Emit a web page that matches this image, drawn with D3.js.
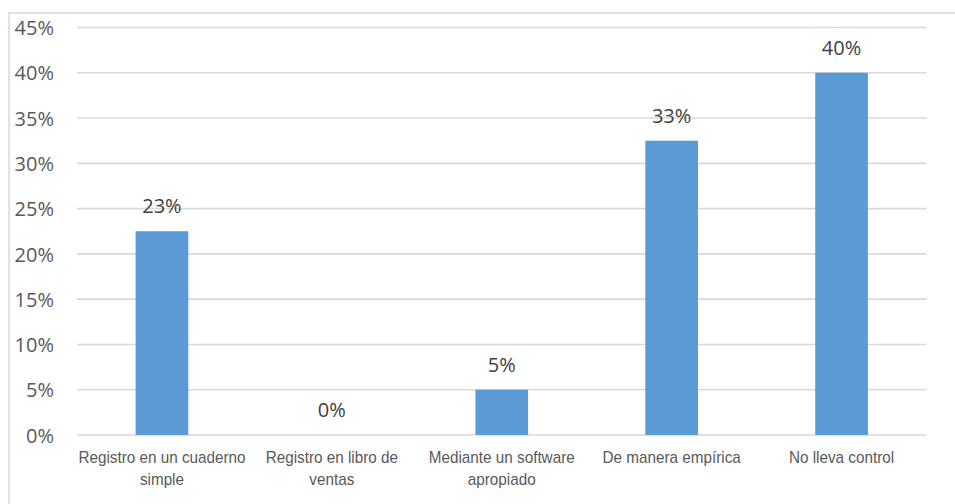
<!DOCTYPE html>
<html>
<head>
<meta charset="utf-8">
<script src="https://cdn.jsdelivr.net/npm/d3@7"></script>
<style>
  body { margin: 0; background: #fff; }
  svg { display: block; }
</style>
</head>
<body>
<div id="chart"></div>
<script>
// data
var categories = ["Registro en un cuaderno simple", "Registro en libro de ventas", "Mediante un software apropiado", "De manera empírica", "No lleva control"];
var values = [0.225, 0, 0.05, 0.325, 0.40];
var yTicks = [0, 0.05, 0.10, 0.15, 0.20, 0.25, 0.30, 0.35, 0.40, 0.45];

var W = 955, H = 504;
var plotLeft = 77, plotRight = 926.5, plotTop = 27.5, plotBottom = 435;
var squeeze = 0.955; // category labels are slightly condensed

var svg = d3.select("#chart").append("svg")
    .attr("width", W)
    .attr("height", H);

// chart border
svg.append("rect")
    .attr("x", 9).attr("y", 13)
    .attr("width", W).attr("height", H)
    .attr("fill", "none")
    .attr("stroke", "#d9d9d9")
    .attr("stroke-width", 1.5);

var x = d3.scaleBand()
    .domain(categories)
    .range([plotLeft, plotRight])
    .paddingInner(0.69)
    .paddingOuter(0.345);

var y = d3.scaleLinear()
    .domain([0, 0.45])
    .range([plotBottom, plotTop]);

// gridlines
svg.append("g").selectAll("line")
    .data(yTicks)
    .enter().append("line")
    .attr("x1", plotLeft).attr("x2", plotRight)
    .attr("y1", function(d) { return y(d); })
    .attr("y2", function(d) { return y(d); })
    .attr("stroke", "#d9d9d9")
    .attr("stroke-width", 1.6);

// y axis labels
var yAxis = svg.append("g")
    .attr("transform", "translate(54,0)")
    .call(d3.axisLeft(y).tickValues(yTicks).tickFormat(d3.format(".0%")).tickSize(0).tickPadding(0));
yAxis.select(".domain").remove();
yAxis.selectAll("text")
    .attr("font-family", "'Open Sans', sans-serif")
    .attr("font-size", "20px")
    .attr("fill", "#595959")
    .attr("dy", "0.36em");

// bars
svg.selectAll(".bar")
    .data(values)
    .enter().append("rect")
    .attr("class", "bar")
    .attr("x", function(d, i) { return x(categories[i]); })
    .attr("y", function(d) { return y(d); })
    .attr("width", x.bandwidth())
    .attr("height", function(d) { return plotBottom - y(d); })
    .attr("fill", "#5b9bd5");

// value labels
svg.selectAll(".val")
    .data(values)
    .enter().append("text")
    .attr("class", "val")
    .attr("x", function(d, i) { return x(categories[i]) + x.bandwidth() / 2; })
    .attr("y", function(d) { return y(d) - 18; })
    .attr("text-anchor", "middle")
    .attr("font-family", "'Open Sans', sans-serif")
    .attr("font-size", "20px")
    .attr("fill", "#404040")
    .text(function(d) { return d3.format(".0%")(d); });

// category labels, wrapped
var xAxis = svg.append("g")
    .attr("transform", "translate(0," + plotBottom + ")")
    .call(d3.axisBottom(x).tickSize(0).tickPadding(0));
xAxis.select(".domain").remove();
xAxis.selectAll("text")
    .attr("font-family", "'Liberation Sans', Arial, sans-serif")
    .attr("font-size", "16px")
    .attr("fill", "#595959")
    .attr("y", 28)
    .attr("dy", 0)
    .attr("transform", "scale(" + squeeze + ",1)")
    .each(function(d) {
        var t = d3.select(this), words = d.split(" "), line = [], lines = [];
        t.text(null);
        var tmp = t.append("tspan");
        words.forEach(function(w) {
            line.push(w);
            tmp.text(line.join(" "));
            if (tmp.node().getComputedTextLength() * squeeze > 168 && line.length > 1) {
                line.pop();
                lines.push(line.join(" "));
                line = [w];
            }
        });
        lines.push(line.join(" "));
        tmp.remove();
        lines.forEach(function(l, k) {
            t.append("tspan").attr("x", 0).attr("y", 28 + k * 22).text(l);
        });
    });
</script>
</body>
</html>
